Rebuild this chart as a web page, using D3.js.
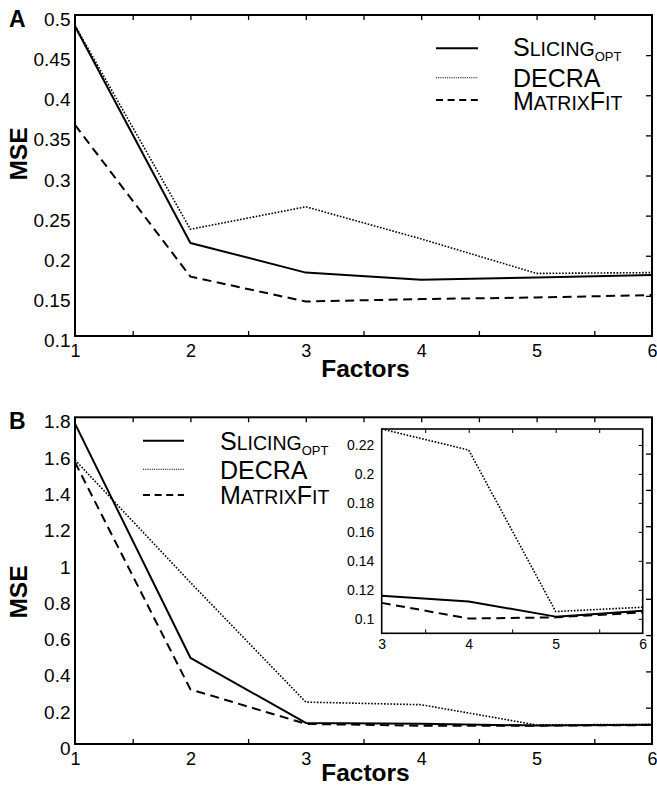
<!DOCTYPE html>
<html>
<head>
<meta charset="utf-8">
<script src="https://cdn.jsdelivr.net/npm/d3@7/dist/d3.min.js"></script>
<style>
  html, body { margin: 0; padding: 0; background: #fff; }
  svg { display: block; font-family: "Liberation Sans", Arial, Helvetica, sans-serif; }
</style>
</head>
<body>
<svg id="chart" width="657" height="786"></svg>
<script>
// Number of factors on the x axis
const factors = [1, 2, 3, 4, 5, 6];

// Panel A: MSE per method
const slicingA   = [0.486, 0.216, 0.179, 0.170, 0.173, 0.176];
const decraA     = [0.487, 0.233, 0.261, 0.221, 0.178, 0.179];
const matrixFitA = [0.363, 0.174, 0.143, 0.146, 0.148, 0.151];

// Panel B: MSE per method
const slicingB   = [1.765, 0.475, 0.116, 0.112, 0.1015, 0.1055];
const decraB     = [1.565, 0.890, 0.231, 0.2165, 0.105, 0.108];
const matrixFitB = [1.552, 0.301, 0.111, 0.1002, 0.101, 0.1044];

// Tick labels
const yTicksA = [0.1, 0.15, 0.2, 0.25, 0.3, 0.35, 0.4, 0.45, 0.5];
const yTicksB = [0, 0.2, 0.4, 0.6, 0.8, 1, 1.2, 1.4, 1.6, 1.8];
const yTicksInset = [0.1, 0.12, 0.14, 0.16, 0.18, 0.2, 0.22];
const xTicksInset = [3, 4, 5, 6];

// Method names (lower case letters are set in small caps) and subscripts
const methods = [
  { name: "Slicing", sub: "opt", key: "slicing" },
  { name: "DECRA", sub: "", key: "decra" },
  { name: "MatrixFit", sub: "", key: "matrixFit" }
];

const lineStyles = {
  slicing:   { width: 2,   dash: null },
  decra:     { width: 1.6, dash: "1.6,1.6" },
  matrixFit: { width: 2,   dash: "9,5.5" }
};
const legendStyles = {
  slicing:   { width: 2,   dash: null },
  decra:     { width: 1.1, dash: "1.1,1.1" },
  matrixFit: { width: 2,   dash: "7,4.6" }
};

const svg = d3.select("#chart");
const FONT_BIG = 25, FONT_SMALL = 19.5, FONT_SUB = 13;

function smallCapsText(g, x, y, m) {
  const t = g.append("text").attr("x", x).attr("y", y).attr("fill", "#000");
  // split into runs of upper-case and lower-case letters
  const runs = m.name.match(/[A-Z]+|[^A-Z]+/g);
  runs.forEach(r => {
    const upper = r === r.toUpperCase();
    t.append("tspan")
      .attr("font-size", upper ? FONT_BIG : FONT_SMALL)
      .text(r.toUpperCase());
  });
  if (m.sub) {
    t.append("tspan")
      .attr("font-size", FONT_SUB)
      .attr("dy", 5)
      .text(m.sub.toUpperCase());
  }
}

function drawPanel(cfg) {
  const g = svg.append("g");
  const x = d3.scaleLinear().domain([1, 6]).range([cfg.left, cfg.right]);
  const y = d3.scaleLinear().domain(cfg.yDomain).range([cfg.bottom, cfg.top]);

  // data lines
  const line = d3.line().x((d, i) => x(factors[i])).y(d => y(d));
  cfg.series.forEach(s => {
    const st = lineStyles[s.key];
    g.append("path")
      .datum(s.values)
      .attr("d", line)
      .attr("fill", "none")
      .attr("stroke", "#000")
      .attr("stroke-width", st.width)
      .attr("stroke-dasharray", st.dash)
      .attr("stroke-linejoin", "round");
  });

  // inward ticks on top, bottom and right
  g.append("g").attr("transform", `translate(0,${cfg.top})`)
    .call(d3.axisTop(x).tickValues([1.5, 2, 2.5, 3, 3.5, 4, 4.5, 5, 5.5]).tickSize(-5).tickFormat(""))
    .call(a => a.select(".domain").remove());
  g.append("g").attr("transform", `translate(0,${cfg.bottom})`)
    .call(d3.axisBottom(x).tickValues([1.5, 2.5, 3.5, 4.5, 5.5]).tickSize(-5).tickFormat(""))
    .call(a => a.select(".domain").remove());
  g.append("g").attr("transform", `translate(${cfg.right},0)`)
    .call(d3.axisRight(y).tickValues(cfg.yTicks.slice(1, -1)).tickSize(-6).tickFormat(""))
    .call(a => a.select(".domain").remove());
  g.selectAll(".tick line").attr("stroke", "#000").attr("stroke-width", 1.3);

  // frame
  g.append("rect")
    .attr("x", cfg.left).attr("y", cfg.top)
    .attr("width", cfg.right - cfg.left).attr("height", cfg.bottom - cfg.top)
    .attr("fill", "none").attr("stroke", "#000").attr("stroke-width", 2);

  // tick labels
  const yl = g.append("g").attr("transform", `translate(${cfg.left},0)`)
    .call(d3.axisLeft(y).tickValues(cfg.yTicks).tickSize(0).tickPadding(4.5)
      .tickFormat(d => String(+d.toFixed(2))));
  yl.select(".domain").remove();
  yl.selectAll("text").attr("font-size", 19).attr("font-family", null)
    .attr("fill", "#000").attr("y", 4.5);

  const xl = g.append("g").attr("transform", `translate(0,${cfg.bottom})`)
    .call(d3.axisBottom(x).tickValues(factors).tickSize(0).tickPadding(8.5).tickFormat(d3.format("d")));
  xl.select(".domain").remove();
  xl.selectAll("text").attr("font-size", 18).attr("font-family", null).attr("fill", "#000");

  // axis titles
  g.append("text")
    .attr("x", (cfg.left + cfg.right) / 2 + 2).attr("y", cfg.factorsY)
    .attr("text-anchor", "middle").attr("font-weight", "bold").attr("font-size", 24.5)
    .text("Factors");
  g.append("text")
    .attr("transform", `translate(27,${cfg.mseY}) rotate(-90)`)
    .attr("text-anchor", "middle").attr("font-weight", "bold").attr("font-size", 24.5)
    .text("MSE");
  g.append("text")
    .attr("x", 9).attr("y", cfg.top + 11.5)
    .attr("font-weight", "bold").attr("font-size", 23)
    .text(cfg.letter);

  // legend
  methods.forEach((m, i) => {
    const st = legendStyles[m.key];
    const ly = cfg.legend.lineY[i];
    g.append("line")
      .attr("x1", cfg.legend.x1).attr("x2", cfg.legend.x2)
      .attr("y1", ly).attr("y2", ly)
      .attr("stroke", "#000").attr("stroke-width", st.width)
      .attr("stroke-dasharray", st.dash);
    smallCapsText(g, cfg.legend.textX, cfg.legend.textY[i], m);
  });

  return { g, x, y };
}

drawPanel({
  letter: "A",
  left: 75, right: 652, top: 15, bottom: 336,
  yDomain: [0.1, 0.5], yTicks: yTicksA, mseY: 154, factorsY: 377,
  series: [
    { key: "slicing", values: slicingA },
    { key: "decra", values: decraA },
    { key: "matrixFit", values: matrixFitA }
  ],
  legend: { x1: 436, x2: 478, textX: 513, lineY: [48.3, 77.7, 100], textY: [56, 87, 110] }
});

drawPanel({
  letter: "B",
  left: 75, right: 652, top: 417.3, bottom: 744,
  yDomain: [0, 1.8], yTicks: yTicksB, mseY: 592, factorsY: 781,
  series: [
    { key: "slicing", values: slicingB },
    { key: "decra", values: decraB },
    { key: "matrixFit", values: matrixFitB }
  ],
  legend: { x1: 143, x2: 184, textX: 220, lineY: [440.7, 469.3, 495], textY: [450, 479, 503.5] }
});

// Inset: panel B zoomed in on factors 3 to 6
(function drawInset() {
  const L = 381.7, R = 642.7, T = 429, B = 633.3;
  const g = svg.append("g");
  const x = d3.scaleLinear().domain([3, 6]).range([L, R]);
  const y = d3.scaleLinear().domain([0.09, 0.231]).range([B, T]);

  g.append("rect").attr("x", L).attr("y", T).attr("width", R - L).attr("height", B - T)
    .attr("fill", "#fff");

  const idx = [2, 3, 4, 5];
  const series = [
    { key: "slicing", values: slicingB },
    { key: "decra", values: decraB },
    { key: "matrixFit", values: matrixFitB }
  ];
  series.forEach(s => {
    const st = lineStyles[s.key];
    const pts = idx.map(i => [x(factors[i]), y(s.values[i])]);
    g.append("path")
      .attr("d", d3.line()(pts))
      .attr("fill", "none").attr("stroke", "#000")
      .attr("stroke-width", st.width).attr("stroke-dasharray", st.dash)
      .attr("stroke-linejoin", "round");
  });

  g.append("g").attr("transform", `translate(0,${T})`)
    .call(d3.axisTop(x).tickValues([3.5, 4, 4.5, 5, 5.5]).tickSize(-4).tickFormat(""))
    .call(a => a.select(".domain").remove());
  g.append("g").attr("transform", `translate(0,${B})`)
    .call(d3.axisBottom(x).tickValues([3.5, 4.5, 5.5]).tickSize(-4).tickFormat(""))
    .call(a => a.select(".domain").remove());
  g.append("g").attr("transform", `translate(${R},0)`)
    .call(d3.axisRight(y).tickValues(yTicksInset).tickSize(-4).tickFormat(""))
    .call(a => a.select(".domain").remove());
  g.selectAll(".tick line").attr("stroke", "#000").attr("stroke-width", 1);

  g.append("rect").attr("x", L).attr("y", T).attr("width", R - L).attr("height", B - T)
    .attr("fill", "none").attr("stroke", "#000").attr("stroke-width", 1.6);

  const yl = g.append("g").attr("transform", `translate(${L},0)`)
    .call(d3.axisLeft(y).tickValues(yTicksInset).tickSize(0).tickPadding(7.5)
      .tickFormat(d => String(+d.toFixed(2))));
  yl.select(".domain").remove();
  yl.selectAll("text").attr("font-size", 14).attr("font-family", null).attr("fill", "#000");

  const xl = g.append("g").attr("transform", `translate(0,${B})`)
    .call(d3.axisBottom(x).tickValues(xTicksInset).tickSize(0).tickPadding(6).tickFormat(d3.format("d")));
  xl.select(".domain").remove();
  xl.selectAll("text").attr("font-size", 14).attr("font-family", null).attr("fill", "#000");
})();
</script>
</body>
</html>
